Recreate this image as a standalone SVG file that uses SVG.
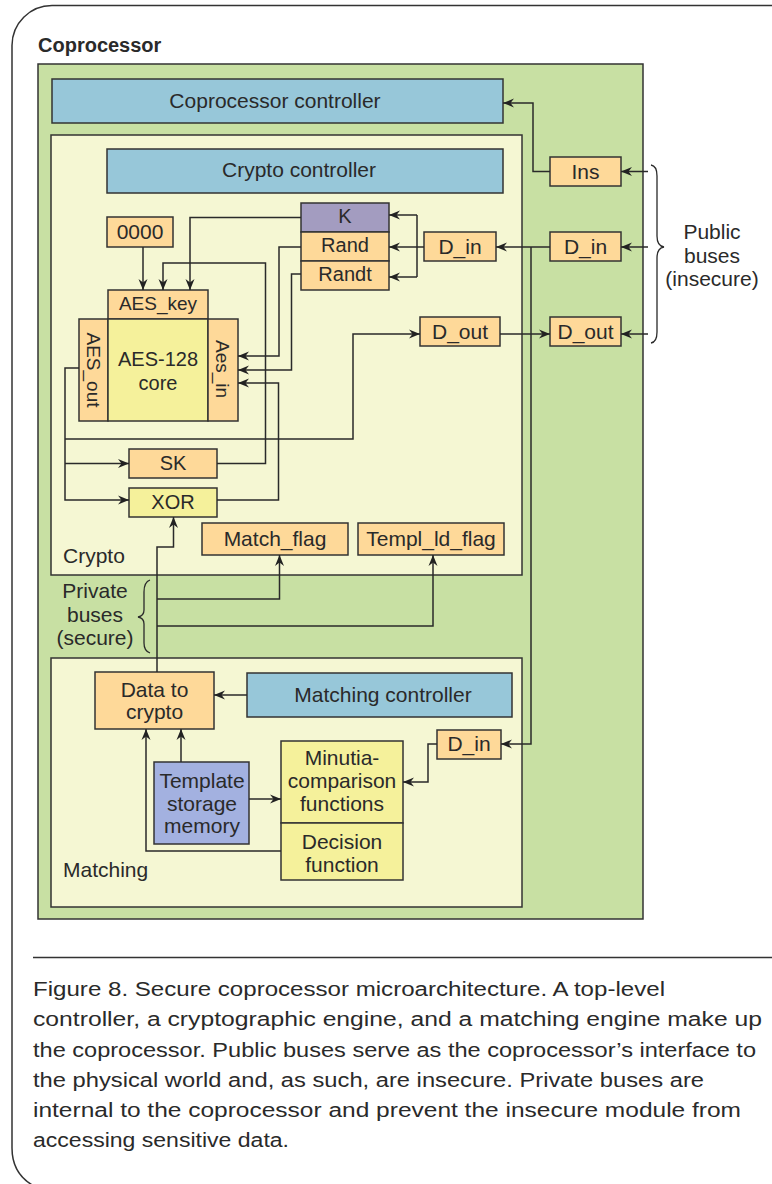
<svg xmlns="http://www.w3.org/2000/svg" width="772" height="1184" viewBox="0 0 772 1184">
<defs>
<marker id="ah" markerWidth="12" markerHeight="10" refX="11" refY="5" orient="auto" markerUnits="userSpaceOnUse">
<path d="M0,0.5 L11,5 L0,9.5 L3.5,5 Z" fill="#222"/>
</marker>
<style>
.t{font-family:"Liberation Sans",Arial,sans-serif;fill:#2a2a2a;font-size:21px;text-anchor:middle}
.s{font-size:19px}
.m{font-size:20px}
.l{text-anchor:start}
.cap{font-family:"Liberation Sans",Arial,sans-serif;fill:#2a2a2a;font-size:20px}
.bx{stroke:#333;stroke-width:1.5}
.green{fill:#c8e0a3}
.cream{fill:#f5f7d3}
.blue{fill:#97c7d9}
.orange{fill:#fed999}
.yellow{fill:#f5f19b}
.purple{fill:#a39cc0}
.peri{fill:#a3b1e0}
.cn{fill:none;stroke:#2a2a2a;stroke-width:1.5}
.ar{marker-end:url(#ah)}
.br{fill:none;stroke:#2a2a2a;stroke-width:1.3}
</style>
</defs>
<rect width="772" height="1184" fill="#fff"/>
<path d="M772,5.5 H52 A40 40 0 0 0 12,45.5 V1148 Q12,1174 34,1186" fill="none" stroke="#333" stroke-width="1.5"/>
<text class="t l" x="38" y="52" style="font-weight:bold;font-size:20px">Coprocessor</text>

<g id="coprocessor"><rect class="bx green" x="38" y="64" width="605" height="855"/></g>
<g id="coprocessor-controller"><rect class="bx blue" x="52" y="79" width="451" height="44"/><text class="t" x="275" y="108">Coprocessor controller</text></g>
<g id="crypto"><rect class="bx cream" x="51" y="135" width="471" height="440"/><text class="t l" x="63" y="563">Crypto</text></g>
<g id="crypto-controller"><rect class="bx blue" x="107" y="149" width="396" height="44"/><text class="t" x="299" y="177">Crypto controller</text></g>
<g id="ins"><rect class="bx orange" x="550" y="157" width="71" height="29"/><text class="t" x="585.5" y="179">Ins</text></g>
<g id="pub-din"><rect class="bx orange" x="550" y="232" width="71" height="29"/><text class="t" x="585.5" y="254">D_in</text></g>
<g id="pub-dout"><rect class="bx orange" x="550" y="317" width="71" height="29"/><text class="t" x="585.5" y="339">D_out</text></g>
<g id="crypto-din"><rect class="bx orange" x="424" y="232" width="72" height="29"/><text class="t" x="460" y="254">D_in</text></g>
<g id="crypto-dout"><rect class="bx orange" x="420" y="317" width="80" height="29"/><text class="t" x="460" y="339">D_out</text></g>
<g id="k"><rect class="bx purple" x="301" y="203" width="88" height="29"/><text class="t m" x="345" y="223">K</text></g>
<g id="rand"><rect class="bx orange" x="301" y="232" width="88" height="29"/><text class="t m" x="345" y="252">Rand</text></g>
<g id="randt"><rect class="bx orange" x="301" y="261" width="88" height="29"/><text class="t m" x="345" y="281">Randt</text></g>
<g id="zeros"><rect class="bx orange" x="107" y="217" width="66" height="30"/><text class="t" x="140" y="239">0000</text></g>
<g id="aes-key"><rect class="bx orange" x="108" y="290" width="100" height="29"/><text class="t s" x="158" y="310">AES_key</text></g>
<g id="aes-out"><rect class="bx orange" x="79" y="319" width="29" height="102"/><text class="t s" transform="translate(87,370) rotate(90)">AES_out</text></g>
<g id="aes-core"><rect class="bx yellow" x="108" y="319" width="100" height="102"/><text class="t m" x="158" y="366">AES-128</text><text class="t m" x="158" y="390">core</text></g>
<g id="aes-in"><rect class="bx orange" x="208" y="319" width="30" height="102"/><text class="t s" transform="translate(216,369) rotate(90)">Aes_in</text></g>
<g id="sk"><rect class="bx orange" x="129" y="449" width="88" height="29"/><text class="t m" x="173" y="470">SK</text></g>
<g id="xor"><rect class="bx yellow" x="129" y="488" width="88" height="29"/><text class="t m" x="173" y="509">XOR</text></g>
<g id="match-flag"><rect class="bx orange" x="202" y="523" width="146" height="32"/><text class="t" x="275" y="546">Match_flag</text></g>
<g id="templ-flag"><rect class="bx orange" x="358" y="523" width="146" height="32"/><text class="t" x="431" y="546">Templ_ld_flag</text></g>

<g id="matching"><rect class="bx cream" x="51" y="658" width="471" height="249"/><text class="t l" x="63" y="877">Matching</text></g>
<g id="data-to-crypto"><rect class="bx orange" x="95" y="672" width="119" height="57"/><text class="t" x="154.5" y="697">Data to</text><text class="t" x="154.5" y="719">crypto</text></g>
<g id="matching-controller"><rect class="bx blue" x="247" y="673" width="265" height="44"/><text class="t" x="383" y="702">Matching controller</text></g>
<g id="match-din"><rect class="bx orange" x="437" y="730" width="64" height="29"/><text class="t" x="469" y="751">D_in</text></g>
<g id="template"><rect class="bx peri" x="154" y="762" width="95" height="82"/><text class="t" x="202" y="788">Template</text><text class="t" x="202" y="811">storage</text><text class="t" x="202" y="833">memory</text></g>
<g id="minutia"><rect class="bx yellow" x="281" y="741" width="122" height="82"/><text class="t" x="342" y="765">Minutia-</text><text class="t" x="342" y="788">comparison</text><text class="t" x="342" y="811">functions</text></g>
<g id="decision"><rect class="bx yellow" x="281" y="823" width="122" height="57"/><text class="t" x="342" y="849">Decision</text><text class="t" x="342" y="872">function</text></g>

<g id="labels">
<text class="t" x="712" y="239">Public</text>
<text class="t" x="712" y="263">buses</text>
<text class="t" x="712" y="286">(insecure)</text>
<path class="br" d="M651,165 Q657,166 657,176 V236 Q657,246 664,247 Q657,248 657,258 V332 Q657,342 651,343"/>
<text class="t" x="95" y="598">Private</text>
<text class="t" x="95" y="622">buses</text>
<text class="t" x="95" y="645">(secure)</text>
<path class="br" d="M150,580 Q144,582 144,592 V610 Q144,616 138,617 Q144,618 144,624 V643 Q144,651 150,653"/>
</g>

<g id="connectors">
<path class="cn ar" d="M550,171.5 H533 V103 H503"/>
<path class="cn ar" d="M648,171.5 H621"/>
<path class="cn ar" d="M648,247 H621"/>
<path class="cn ar" d="M648,334 H621"/>
<path class="cn ar" d="M550,247 H496"/>
<path class="cn ar" d="M531,247 V744 H501"/>
<path class="cn ar" d="M500,334 H550"/>
<path class="cn ar" d="M424,247 H389"/>
<path class="cn" d="M417,215 V277"/>
<path class="cn ar" d="M417,215 H389"/>
<path class="cn ar" d="M417,277 H389"/>
<path class="cn ar" d="M301,217.5 H190 V290"/>
<path class="cn ar" d="M143,247 V290"/>
<path class="cn ar" d="M217,463.5 H265.5 V263 H163 V290"/>
<path class="cn ar" d="M301,247 H279 V356 H238"/>
<path class="cn ar" d="M301,274 H291.5 V370 H238"/>
<path class="cn ar" d="M217,500 H278.5 V383 H238"/>
<path class="cn ar" d="M79,368 H65 V500 H129"/>
<path class="cn ar" d="M65,463.5 H129"/>
<path class="cn ar" d="M65,439 H353 V334 H420"/>
<path class="cn ar" d="M157,672 V547 H173.5 V517"/>
<path class="cn ar" d="M157,599 H279.5 V555"/>
<path class="cn ar" d="M157,626 H433 V555"/>
<path class="cn ar" d="M247,695 H214"/>
<path class="cn ar" d="M181,762 V729"/>
<path class="cn ar" d="M249,799 H281"/>
<path class="cn ar" d="M281,851 H146 V729"/>
<path class="cn ar" d="M437,744 H428 V782 H403"/>
</g>

<line x1="33" y1="957.5" x2="772" y2="957.5" stroke="#333" stroke-width="1.5"/>
<g id="caption">
<text class="cap" x="33" y="996" textLength="632" lengthAdjust="spacingAndGlyphs">Figure 8. Secure coprocessor microarchitecture. A top-level</text>
<text class="cap" x="33" y="1026" textLength="729" lengthAdjust="spacingAndGlyphs">controller, a cryptographic engine, and a matching engine make up</text>
<text class="cap" x="33" y="1056.5" textLength="723" lengthAdjust="spacingAndGlyphs">the coprocessor. Public buses serve as the coprocessor’s interface to</text>
<text class="cap" x="33" y="1087" textLength="671" lengthAdjust="spacingAndGlyphs">the physical world and, as such, are insecure. Private buses are</text>
<text class="cap" x="33" y="1117" textLength="708" lengthAdjust="spacingAndGlyphs">internal to the coprocessor and prevent the insecure module from</text>
<text class="cap" x="33" y="1147" textLength="256" lengthAdjust="spacingAndGlyphs">accessing sensitive data.</text>
</g>
</svg>
